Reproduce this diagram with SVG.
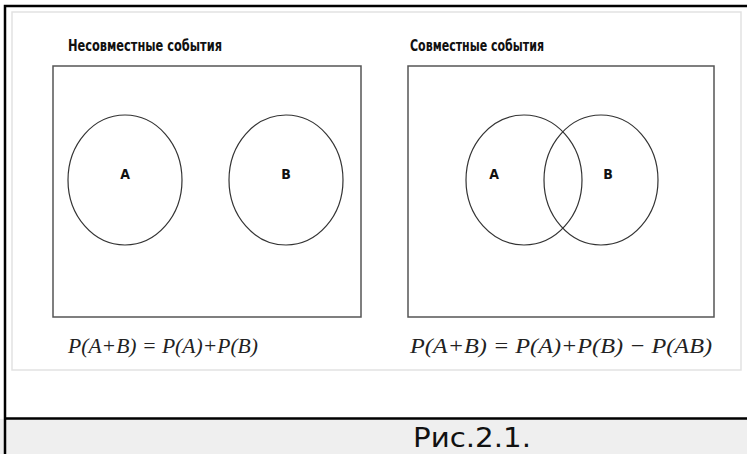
<svg xmlns="http://www.w3.org/2000/svg" width="747" height="454" viewBox="0 0 747 454">
<style>
.title{font-family:"DejaVu Sans Condensed","DejaVu Sans",sans-serif;font-weight:bold;font-size:16px;fill:#111}
.lbl{font-family:"DejaVu Sans Condensed","DejaVu Sans",sans-serif;font-weight:bold;font-size:14px;fill:#111}
.frm{font-family:"Liberation Serif",serif;font-style:italic;font-size:22px;fill:#222}
.box{fill:none;stroke:#555;stroke-width:1.5}
.circ{fill:none;stroke:#333;stroke-width:1.2}
</style>
<rect x="0" y="0" width="747" height="454" fill="#fff"/>
<rect x="0" y="419" width="747" height="35" fill="#efefef"/>
<rect x="12" y="12" width="729" height="358" fill="none" stroke="#e2e2e2" stroke-width="1.5"/>
<path d="M5 454 V6 H747 M5 418.5 H747" fill="none" stroke="#000" stroke-width="2.5"/>
<g id="left">
<text class="title" x="68" y="51" textLength="154" lengthAdjust="spacingAndGlyphs">Несовместные события</text>
<rect class="box" x="53" y="66" width="308" height="251"/>
<g id="leftA"><ellipse class="circ" cx="125" cy="180" rx="57" ry="65"/><text class="lbl" x="125" y="179" text-anchor="middle">A</text></g>
<g id="leftB"><ellipse class="circ" cx="286" cy="180" rx="57" ry="65"/><text class="lbl" x="286" y="179" text-anchor="middle">B</text></g>
<text class="frm" x="68" y="353" textLength="190" lengthAdjust="spacingAndGlyphs">P(A+B) = P(A)+P(B)</text>
</g>
<g id="right">
<text class="title" x="410" y="51" textLength="134" lengthAdjust="spacingAndGlyphs">Совместные события</text>
<rect class="box" x="408" y="66" width="306" height="251"/>
<g id="rightA"><ellipse class="circ" cx="524" cy="180" rx="58" ry="65"/><text class="lbl" x="494" y="179" text-anchor="middle">A</text></g>
<g id="rightB"><ellipse class="circ" cx="601" cy="180" rx="57" ry="65"/><text class="lbl" x="608" y="179" text-anchor="middle">B</text></g>
<text class="frm" x="410" y="353" textLength="302" lengthAdjust="spacingAndGlyphs">P(A+B) = P(A)+P(B) − P(AB)</text>
</g>
<text x="472" y="447" text-anchor="middle" font-family="DejaVu Sans, sans-serif" font-size="26" fill="#111" textLength="118" lengthAdjust="spacingAndGlyphs">Рис.2.1.</text>
</svg>
